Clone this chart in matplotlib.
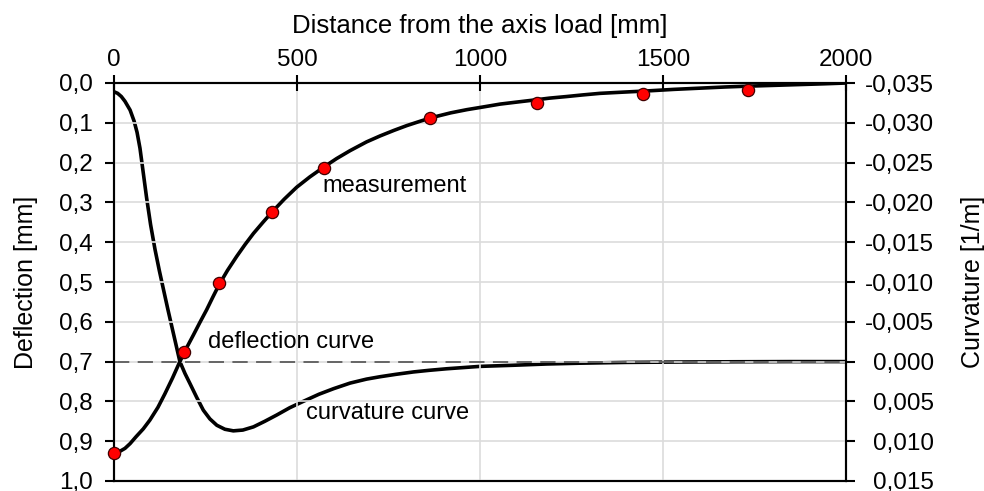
import matplotlib
matplotlib.use("Agg")
import matplotlib.pyplot as plt
from matplotlib.ticker import FuncFormatter, MultipleLocator

plt.rcParams['font.family'] = ['Liberation Sans', 'DejaVu Sans']

# Measurements (deflection, mm)
meas_x = [0, 192, 287, 433, 575, 863, 1157, 1444, 1733]
meas_d = [0.930, 0.677, 0.503, 0.323, 0.213, 0.089, 0.049, 0.028, 0.018]

# Deflection curve (mm)
defl_x = [0, 15, 30, 44, 60, 80, 98, 120, 139, 160, 180, 198, 217, 235, 253,
          270, 287, 310, 335, 358, 381, 407, 433, 465, 499, 535, 572, 608, 645,
          690, 727, 765, 800, 840, 872, 920, 964, 1010, 1055, 1100, 1146, 1190,
          1237, 1280, 1328, 1390, 1455, 1530, 1600, 1670, 1729, 1800, 1870,
          1940, 2000]
defl_d = [0.929, 0.926, 0.918, 0.906, 0.889, 0.869, 0.847, 0.815, 0.781, 0.741,
          0.700, 0.666, 0.633, 0.601, 0.570, 0.538, 0.507, 0.471, 0.436, 0.406,
          0.378, 0.350, 0.323, 0.292, 0.262, 0.236, 0.212, 0.190, 0.170, 0.148,
          0.133, 0.119, 0.107, 0.095, 0.086, 0.075, 0.067, 0.060, 0.053, 0.048,
          0.043, 0.038, 0.034, 0.030, 0.026, 0.023, 0.020, 0.016, 0.013, 0.010,
          0.008, 0.006, 0.004, 0.002, 0.000]

# Curvature curve (1/m)
curv_x = [0, 10, 20, 30, 44, 55, 63, 71, 80, 89, 100, 112, 124, 135, 147, 158,
          169, 180, 194, 208, 226, 244, 262, 281, 303, 326, 352, 381, 412, 445,
          480, 517, 560, 600, 645, 690, 727, 770, 818, 860, 909, 1000, 1091,
          1182, 1273, 1400, 1550, 1700, 1850, 2000]
curv_v = [-0.0339, -0.0337, -0.0333, -0.0327, -0.0316, -0.0302, -0.0288,
          -0.0268, -0.0237, -0.0206, -0.0172, -0.0141, -0.0114, -0.0091,
          -0.0066, -0.0044, -0.0022, 0.0000, 0.0015, 0.0028, 0.0045, 0.0061,
          0.0072, 0.0080, 0.0085, 0.0087, 0.0086, 0.0082, 0.0075, 0.0067,
          0.0058, 0.0050, 0.0041, 0.0034, 0.0027, 0.0022, 0.0019, 0.0016,
          0.0013, 0.0011, 0.0009, 0.0006, 0.00046, 0.0003, 0.0002, 0.0001,
          0.00005, 0.00002, 0.0, 0.0]

x_ticks = [0, 500, 1000, 1500, 2000]
zero_line_d = 0.7  # curvature 0 on the deflection scale

fig = plt.figure(figsize=(9.84, 4.91), dpi=100)
ax = fig.add_axes([114/984, 10/491, 732/984, 398/491])
ax2 = ax.twinx()

ax.set_zorder(ax2.get_zorder() + 1)
ax.patch.set_visible(False)

# curvature
ax2.plot(curv_x, curv_v, color='black', lw=2.6, solid_capstyle='round', zorder=2)
ax2.set_ylim(0.015, -0.035)
ax2.yaxis.set_major_locator(MultipleLocator(0.005))
ax2.yaxis.set_major_formatter(FuncFormatter(
    lambda v, p: f"{v:.3f}".replace('.', ',').replace('-0,000', '0,000')))
ax2.set_ylabel('Curvature [1/m]', fontsize=18, labelpad=19)

# deflection
ax.plot([0, 2000], [zero_line_d, zero_line_d], color='#444444', lw=1.1,
        dashes=(10, 5.5), zorder=2)
ax.plot(defl_x, defl_d, color='black', lw=2.6, zorder=3)
ax.plot(meas_x, meas_d, 'o', ms=8.8, mfc='#ff0000', mec='#400000', mew=0.9,
        zorder=4, clip_on=False)
ax.set_xlim(0, 2000)
ax.set_ylim(1.0, 0.0)
ax.yaxis.set_major_locator(MultipleLocator(0.1))
ax.yaxis.set_major_formatter(FuncFormatter(lambda v, p: f"{v:.1f}".replace('.', ',')))
ax.set_xticks(x_ticks)
ax.xaxis.tick_top()
ax.xaxis.set_label_position('top')
ax.set_xlabel('Distance from the axis load [mm]', fontsize=18.5, labelpad=12)
ax.set_ylabel('Deflection [mm]', fontsize=18, labelpad=15)
ax.grid(True, color='#dcdcdc', lw=1.2, zorder=0)
ax.set_axisbelow(True)

ax.text(570, 0.26, 'measurement', fontsize=17, va='center', ha='left', zorder=5)
ax.text(257, 0.65, 'deflection curve', fontsize=17, va='center', ha='left', zorder=5)
ax.text(525, 0.829, 'curvature curve', fontsize=17, va='center', ha='left', zorder=5)

for a in (ax, ax2):
    for s in a.spines.values():
        s.set_linewidth(1.5)
        s.set_color('black')

ax.tick_params(axis='x', which='major', direction='inout', length=11, width=1.5,
               labelsize=17.5, pad=3)
ax.tick_params(axis='y', which='major', direction='out', length=6.5, width=1.5,
               labelsize=17.5, pad=9)
ax2.tick_params(axis='y', which='major', direction='out', length=6.5, width=1.5,
                labelsize=17.5, pad=57)
for lbl in ax2.get_yticklabels():
    lbl.set_horizontalalignment('right')

fig.savefig('out.png', dpi=100)
